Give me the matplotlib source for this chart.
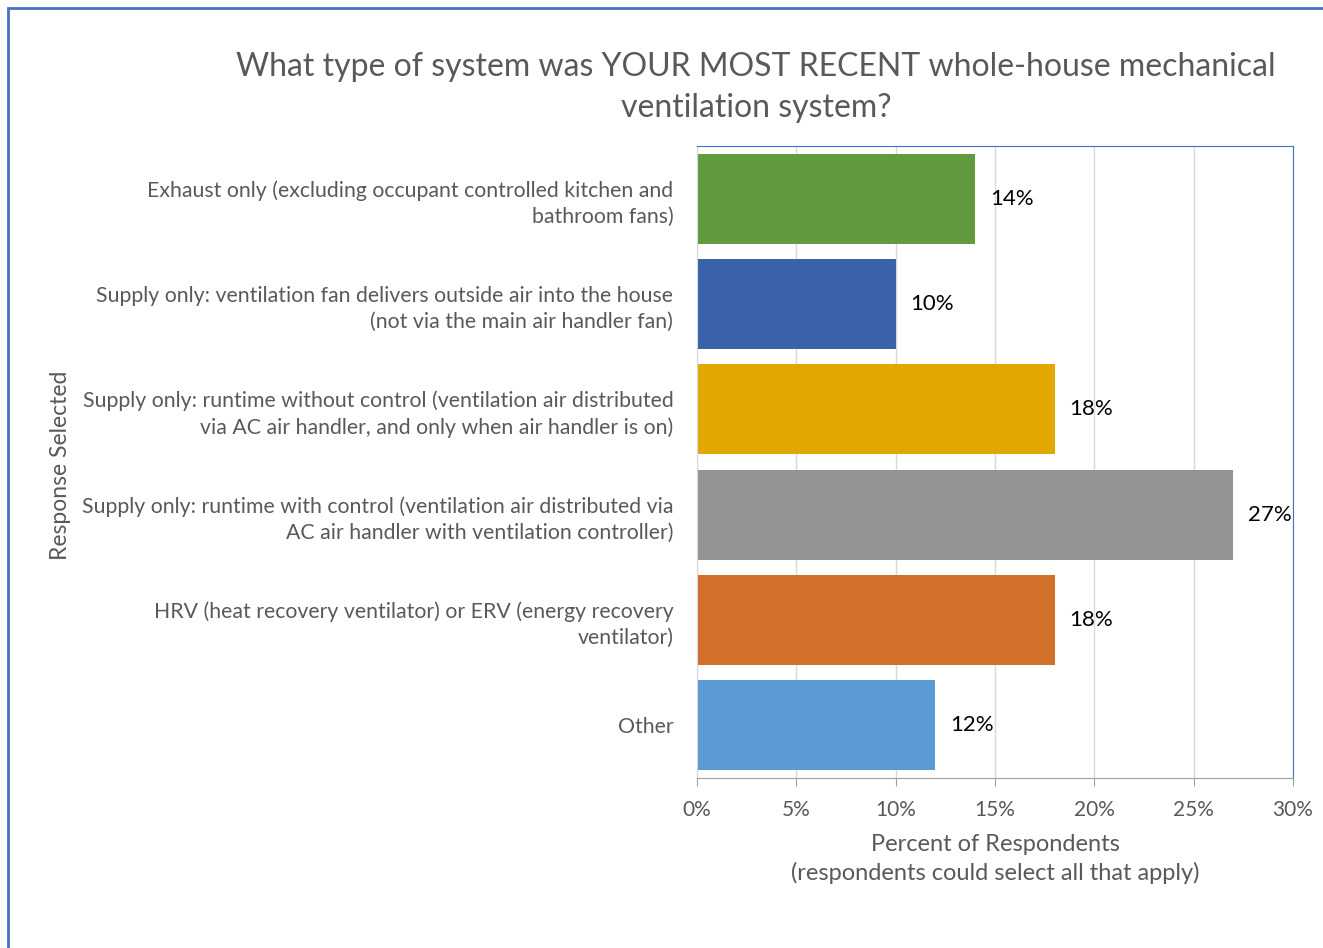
import matplotlib.pyplot as plt
from matplotlib.patches import Rectangle
from matplotlib.ticker import PercentFormatter

categories = [
    "Exhaust only (excluding occupant controlled kitchen and\nbathroom fans)",
    "Supply only: ventilation fan delivers outside air into the house\n(not via the main air handler fan)",
    "Supply only: runtime without control (ventilation air distributed\nvia AC air handler, and only when air handler is on)",
    "Supply only: runtime with control (ventilation air distributed via\nAC air handler with ventilation controller)",
    "HRV (heat recovery ventilator) or ERV (energy recovery\nventilator)",
    "Other",
]
values = [14, 10, 18, 27, 18, 12]
colors = ["#629A3E", "#3A62AB", "#E1A800", "#939393", "#D26F2A", "#5A9AD5"]

plt.rcParams['font.family'] = ['Lato', 'DejaVu Sans']
gray = "#595959"

fig = plt.figure(figsize=(13.23, 9.48), dpi=100)
ax = fig.add_axes([0.5268, 0.1793, 0.4505, 0.6667])

ypos = list(range(len(values)))
ax.barh(ypos, values, height=0.855, color=colors, zorder=2)
ax.set_ylim(len(values) - 0.5, -0.5)
ax.set_xlim(0, 30)
ax.set_xticks(range(0, 31, 5))
ax.xaxis.set_major_formatter(PercentFormatter(decimals=0))
ax.set_yticks(ypos)
ax.set_yticklabels(categories, fontsize=15.3, color=gray, linespacing=1.35)
ax.tick_params(axis='y', length=0, pad=17)
ax.tick_params(axis='x', colors="#A0A0A0", labelcolor=gray, labelsize=15, length=6, pad=10)
ax.grid(axis='x', color="#D9D9D9", linewidth=1, zorder=0)

for s in ['top', 'right']:
    ax.spines[s].set_color("#4472C4")
ax.spines['left'].set_color("#D9D9D9")
ax.spines['bottom'].set_color("#A0A0A0")

for y, v in zip(ypos, values):
    ax.text(v + 0.75, y, f"{v}%", va='center', ha='left', fontsize=16, color="black")

ax.set_xlabel("Percent of Respondents\n(respondents could select all that apply)",
              fontsize=17, color=gray, labelpad=10, linespacing=1.4)
fig.text(0.046, 0.509, "Response Selected", rotation=90, fontsize=16.5, color=gray,
         ha='center', va='center')

fig.text(0.5715, 0.908, "What type of system was YOUR MOST RECENT whole-house mechanical\nventilation system?",
         fontsize=23, color=gray, ha='center', va='center', linespacing=1.45)

fig.patches.append(Rectangle((8 / 1323, -0.1), 1.2, 1 - 8 / 948 + 0.1, transform=fig.transFigure,
                             fill=False, edgecolor="#4472C4", linewidth=2))

fig.savefig("out.png", dpi=100)
